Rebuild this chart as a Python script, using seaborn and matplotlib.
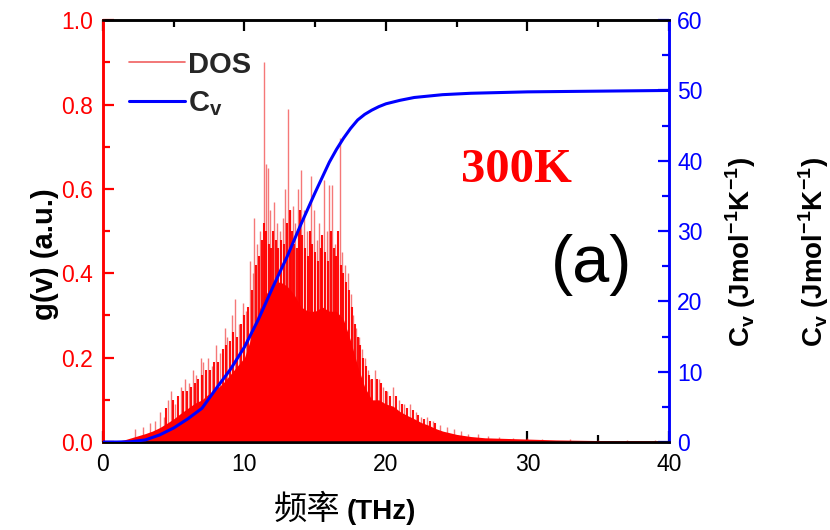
import numpy as np
import pandas as pd
import matplotlib
matplotlib.use("Agg")
import matplotlib.pyplot as plt
from matplotlib.lines import Line2D
from matplotlib.ticker import MultipleLocator
import seaborn as sns

# ---- data ----
dos_freq = [0, 0.5, 1, 1.5, 2, 2.5, 3, 3.5, 4, 4.5, 5, 5.5, 6, 6.5, 7, 7.5, 8, 8.5, 9, 9.5,
            10, 10.5, 11, 11.5, 12, 12.5, 13, 13.5, 14, 14.5, 15, 15.5, 16, 16.5, 17, 17.5,
            18, 18.5, 19, 19.5, 20, 20.5, 21, 21.5, 22, 22.5, 23, 23.5, 24, 25, 26, 27, 28,
            29, 30, 32, 34, 36, 38, 40]
dos_base = [0, 0, 0.002, 0.005, 0.01, 0.015, 0.02, 0.026, 0.034, 0.044, 0.055, 0.068, 0.08,
            0.092, 0.10, 0.115, 0.125, 0.14, 0.16, 0.18, 0.20, 0.25, 0.31, 0.35, 0.37, 0.38,
            0.37, 0.35, 0.32, 0.31, 0.31, 0.32, 0.31, 0.31, 0.29, 0.24, 0.18, 0.13, 0.10,
            0.10, 0.09, 0.085, 0.072, 0.063, 0.055, 0.046, 0.04, 0.032, 0.026, 0.018, 0.013,
            0.01, 0.009, 0.008, 0.007, 0.005, 0.004, 0.003, 0.003, 0.002]

spike_freq = [2.3, 2.8, 3.3, 3.7, 4.0, 4.3, 4.6, 4.8, 5.1, 5.5, 5.8, 6.1, 6.4, 6.6, 6.9, 7.1,
              7.4, 7.7, 8.0, 8.3, 8.6, 8.8, 9.1, 9.3, 9.6, 9.9, 10.1, 10.4, 10.6, 10.7, 10.9,
              11.1, 11.4, 11.5, 11.65, 11.8, 12.1, 12.3, 12.5, 12.7, 12.9, 13.1, 13.25, 13.4,
              13.6, 13.75, 14.0, 14.2, 14.4, 14.7, 14.9, 15.1, 15.3, 15.6, 15.8, 16.0, 16.2,
              16.4, 16.75, 16.9, 17.1, 17.3, 17.5, 17.7, 17.9, 18.1, 18.3, 18.5, 18.7, 18.9,
              19.2, 19.5, 19.8, 20.1, 20.5, 20.9, 21.3, 21.7, 22.1, 22.5, 22.9, 23.3, 23.8,
              24.3, 24.8, 25.3, 25.8, 26.5, 27.2, 28.0, 29.0, 30.0, 31.0, 33.0, 35.0, 37.0, 39.0]
spike_height = [0.03, 0.035, 0.045, 0.05, 0.07, 0.06, 0.10, 0.12, 0.09, 0.13, 0.15, 0.14,
                0.17, 0.16, 0.20, 0.19, 0.20, 0.18, 0.23, 0.21, 0.27, 0.25, 0.30, 0.34, 0.28,
                0.33, 0.31, 0.43, 0.40, 0.53, 0.47, 0.50, 0.90, 0.66, 0.65, 0.55, 0.57, 0.52,
                0.50, 0.53, 0.60, 0.79, 0.55, 0.56, 0.52, 0.60, 0.645, 0.55, 0.50, 0.63, 0.55,
                0.48, 0.52, 0.62, 0.50, 0.61, 0.61, 0.47, 0.72, 0.45, 0.42, 0.40, 0.35, 0.30,
                0.27, 0.25, 0.22, 0.20, 0.17, 0.15, 0.17, 0.15, 0.13, 0.12, 0.13, 0.10, 0.09,
                0.09, 0.07, 0.06, 0.06, 0.05, 0.04, 0.035, 0.03, 0.025, 0.02, 0.018, 0.015,
                0.012, 0.01, 0.009, 0.008, 0.006, 0.005, 0.004, 0.004]

# secondary (denser) spikes between the main ones
spike2_freq = [4.45, 4.95, 5.3, 5.65, 5.95, 6.25, 6.5, 6.75, 7.0, 7.25, 7.55, 7.85, 8.15,
               8.45, 8.7, 8.95, 9.2, 9.45, 9.75, 10.0, 10.25, 10.5, 10.8, 11.0, 11.25, 11.35,
               11.55, 11.75, 11.9, 12.0, 12.2, 12.4, 12.6, 12.8, 13.0, 13.2, 13.35, 13.5,
               13.7, 13.85, 13.95, 14.1, 14.3, 14.5, 14.6, 14.8, 15.0, 15.2, 15.4, 15.5, 15.7,
               15.9, 16.1, 16.3, 16.5, 16.6, 16.85, 17.0, 17.2, 17.4, 17.6, 17.8, 18.0, 18.2,
               18.4, 18.6, 18.8, 19.0, 19.35, 19.65, 20.0, 20.3, 20.7, 21.1, 21.5, 21.9, 22.3,
               22.7, 23.1, 23.5]
spike2_height = [0.08, 0.10, 0.11, 0.12, 0.12, 0.13, 0.14, 0.15, 0.16, 0.17, 0.17, 0.19,
                 0.19, 0.22, 0.23, 0.24, 0.26, 0.25, 0.28, 0.30, 0.32, 0.36, 0.42, 0.44, 0.48,
                 0.52, 0.50, 0.47, 0.46, 0.50, 0.48, 0.46, 0.48, 0.47, 0.52, 0.55, 0.50, 0.47,
                 0.46, 0.50, 0.55, 0.49, 0.46, 0.44, 0.50, 0.47, 0.45, 0.43, 0.46, 0.49, 0.45,
                 0.43, 0.50, 0.46, 0.44, 0.50, 0.42, 0.40, 0.38, 0.36, 0.32, 0.28, 0.25, 0.23,
                 0.20, 0.18, 0.16, 0.15, 0.15, 0.14, 0.12, 0.11, 0.11, 0.09, 0.08, 0.075,
                 0.065, 0.055, 0.05, 0.045]

cv_freq = [0, 1, 2, 3, 4, 5, 6, 7, 8, 9, 10, 11, 12, 13, 14, 15, 16, 16.5, 17, 17.5, 18,
           18.5, 19, 19.5, 20, 21, 22, 24, 26, 28, 30, 35, 40]
cv_vals = [0, 0, 0.05, 0.3, 1.0, 2.0, 3.3, 4.8, 7.6, 10.3, 13.5, 17.5, 22, 26.3, 31, 35.5,
           39.8, 41.6, 43.2, 44.6, 45.8, 46.6, 47.2, 47.7, 48.1, 48.6, 49.0, 49.4, 49.6,
           49.7, 49.8, 49.9, 50.0]

x_ticks = [0, 10, 20, 30, 40]
left_ticks = [0.0, 0.2, 0.4, 0.6, 0.8, 1.0]
right_ticks = [0, 10, 20, 30, 40, 50, 60]

RED = "#ff0000"
BLUE = "#0000ff"

sns.set_style("white")
plt.rcParams["font.family"] = ["Liberation Sans", "Noto Sans CJK SC", "DejaVu Sans"]
plt.rcParams["mathtext.fontset"] = "custom"
plt.rcParams["mathtext.rm"] = "Liberation Sans"
plt.rcParams["mathtext.bf"] = "Liberation Sans:bold"

fig = plt.figure(figsize=(8.3, 5.3), dpi=100)
ax1 = fig.add_axes([0.124, 0.166, 0.682, 0.796])
ax2 = ax1.twinx()

# DOS
ax1.vlines(spike_freq, 0, spike_height, color="#f03030", lw=1.0, alpha=0.65, zorder=2)
ax1.vlines(spike2_freq, 0, spike2_height, color=RED, lw=1.5, alpha=0.95, zorder=3)
ax1.fill_between(dos_freq, 0, dos_base, color=RED, lw=0, zorder=3)

# Cv
df_cv = pd.DataFrame({"freq": cv_freq, "cv": cv_vals})
sns.lineplot(data=df_cv, x="freq", y="cv", ax=ax2, color=BLUE, lw=2.2, zorder=5)

ax1.set_xlim(0, 40)
ax1.set_ylim(0, 1.0)
ax2.set_ylim(0, 60)
ax1.set_xticks(x_ticks)
ax1.set_yticks(left_ticks)
ax2.set_yticks(right_ticks)
ax1.xaxis.set_minor_locator(MultipleLocator(5))
ax1.yaxis.set_minor_locator(MultipleLocator(0.1))
ax2.yaxis.set_minor_locator(MultipleLocator(5))
ax1.set_yticklabels([f"{v:.1f}" for v in left_ticks])

ax1.tick_params(axis="x", which="both", direction="in", top=True, bottom=True,
                colors="black", labelsize=16.5, width=1.6, pad=8)
ax1.tick_params(axis="x", which="major", length=8)
ax1.tick_params(axis="x", which="minor", length=5)
ax1.tick_params(axis="y", which="both", direction="in", left=True, right=False,
                colors=RED, labelsize=16.5, width=1.6, pad=7)
ax1.tick_params(axis="y", which="major", length=8)
ax1.tick_params(axis="y", which="minor", length=5)
ax2.tick_params(axis="y", which="both", direction="in", right=True, left=False,
                colors=BLUE, labelsize=16.5, width=1.6, pad=6)
ax2.tick_params(axis="y", which="major", length=8)
ax2.tick_params(axis="y", which="minor", length=5)
ax2.tick_params(axis="x", which="both", top=False, bottom=False)

for ax in (ax1, ax2):
    for s in ax.spines.values():
        s.set_linewidth(1.8)
        s.set_visible(True)
    ax.spines["top"].set_color("black")
    ax.spines["bottom"].set_color("black")
    ax.spines["left"].set_color(RED)
    ax.spines["right"].set_color(BLUE)

ax1.set_xlabel("")
ax2.set_xlabel("")
ax2.set_ylabel("")
ax1.set_ylabel("")
fig.text(0.054, 0.52, "g(v) (a.u.)", rotation=90, fontsize=21, fontweight="bold",
         ha="center", va="center", color="black")

# x label: Chinese + (THz)
fig.text(0.410, 0.020, "频率", fontsize=24, family=["Noto Sans CJK SC", "DejaVu Sans"],
         ha="right", va="baseline", color="black")
fig.text(0.418, 0.020, "(THz)", fontsize=20, fontweight="bold", ha="left",
         va="baseline", color="black")

cv_label = r"C$_\mathbf{v}$ (Jmol$^\mathbf{-1}$K$^\mathbf{-1}$)"
for xpos in (0.893, 0.980):
    fig.text(xpos, 0.525, cv_label, rotation=90, fontsize=20, fontweight="bold",
             ha="center", va="center", color="black")

ax1.text(0.731, 0.645, "300K", transform=ax1.transAxes, fontsize=35, fontweight="bold",
         family=["Liberation Serif"], color=RED, ha="center", va="center")
ax1.text(0.864, 0.42, "(a)", transform=ax1.transAxes, fontsize=48, color="black",
         ha="center", va="center")

handles = [Line2D([], [], color="#f06060", lw=1.2), Line2D([], [], color=BLUE, lw=2.2)]
leg = ax1.legend(handles, ["DOS", r"C$_\mathbf{v}$"], loc="upper left",
                 bbox_to_anchor=(0.0, 0.99), frameon=False, handlelength=1.9,
                 handletextpad=0.1, labelspacing=0.35,
                 prop={"size": 21, "weight": "bold"})
leg.set_zorder(10)

ax2.set_zorder(ax1.get_zorder() + 1)
ax2.patch.set_visible(False)

fig.savefig("out.png", dpi=100)
